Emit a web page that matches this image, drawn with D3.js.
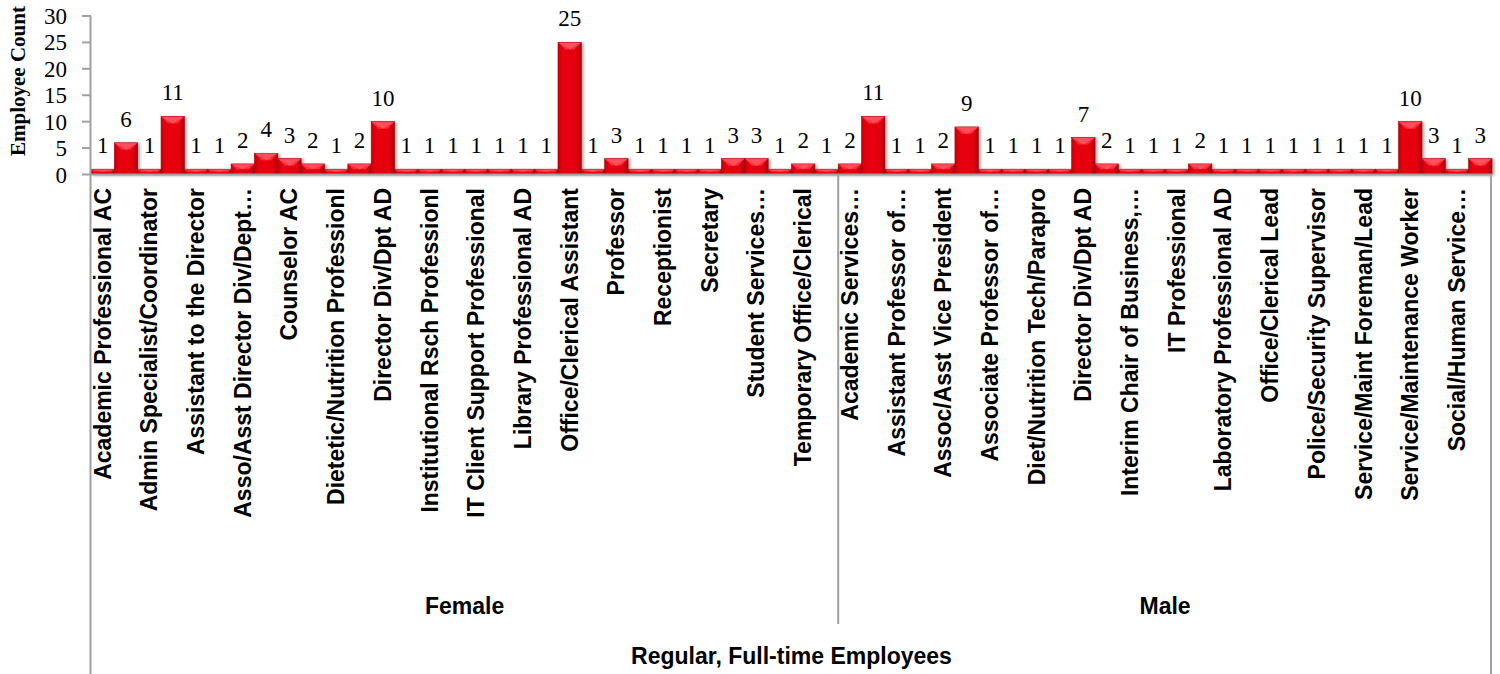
<!DOCTYPE html>
<html>
<head>
  <script src="https://d3js.org/d3.v7.min.js"></script>
  <style>
    body { margin: 0; background: #fff; }
    .cat { font-family: "Liberation Sans", Arial, sans-serif; font-weight: bold; font-size: 23px; }
    .val { font-family: "Liberation Serif", "Times New Roman", serif; font-size: 23px; }
  </style>
</head>
<body>
<div id="chart"></div>
<script>
const width = 1500;
const height = 674;
const margin = { top: 16, left: 91, right: 8, axisY: 174.5 };

// counts per job title, left to right
const femaleCounts = [1, 6, 1, 11, 1, 1, 2, 4, 3, 2, 1, 2, 10, 1, 1, 1, 1, 1, 1, 1, 25, 1, 3, 1, 1, 1, 1, 3, 3, 1, 2, 1];
const maleCounts = [2, 11, 1, 1, 2, 9, 1, 1, 1, 1, 7, 2, 1, 1, 1, 2, 1, 1, 1, 1, 1, 1, 1, 1, 10, 3, 1, 3];

// only every second title is printed on the axis
const femaleLabels = [
  "Academic Professional AC", "Admin Specialist/Coordinator", "Assistant to the Director",
  "Asso/Asst Director Div/Dept…", "Counselor AC", "Dietetic/Nutrition Professionl",
  "Director Div/Dpt AD", "Institutional Rsch Professionl", "IT Client Support Professional",
  "Library Professional AD", "Office/Clerical Assistant", "Professor", "Receptionist",
  "Secretary", "Student Services…", "Temporary Office/Clerical"
];
const maleLabels = [
  "Academic Services…", "Assistant Professor of…", "Assoc/Asst Vice President",
  "Associate Professor of…", "Diet/Nutrition Tech/Parapro", "Director Div/Dpt AD",
  "Interim Chair of Business,…", "IT Professional", "Laboratory Professional AD",
  "Office/Clerical Lead", "Police/Security Supervisor", "Service/Maint Foreman/Lead",
  "Service/Maintenance Worker", "Social/Human Service…"
];
const groups = ["Female", "Male"];
const topGroup = "Regular, Full-time Employees";
const yTicks = [0, 5, 10, 15, 20, 25, 30];

const bars = [];
femaleCounts.forEach((v, i) => bars.push({ group: "Female", value: v, label: i % 2 == 0 ? femaleLabels[i / 2] : "" }));
maleCounts.forEach((v, i) => bars.push({ group: "Male", value: v, label: i % 2 == 0 ? maleLabels[i / 2] : "" }));

const svg = d3.select("#chart").append("svg")
  .attr("width", width)
  .attr("height", height);

const defs = svg.append("defs");
const grad = defs.append("linearGradient").attr("id", "barGrad").attr("x1", 0).attr("x2", 1).attr("y1", 0).attr("y2", 0);
grad.append("stop").attr("offset", "0%").attr("stop-color", "#c4000c");
grad.append("stop").attr("offset", "18%").attr("stop-color", "#e8000f");
grad.append("stop").attr("offset", "80%").attr("stop-color", "#e4000e");
grad.append("stop").attr("offset", "100%").attr("stop-color", "#a8000a");
const shadow = defs.append("filter").attr("id", "shadow").attr("x", "-20%").attr("y", "-20%").attr("width", "150%").attr("height", "150%");
shadow.append("feDropShadow").attr("dx", 2).attr("dy", 1).attr("stdDeviation", 1.5).attr("flood-color", "#000").attr("flood-opacity", 0.35);

const x = d3.scaleBand()
  .domain(d3.range(bars.length))
  .range([margin.left, width - margin.right])
  .padding(0);

const y = d3.scaleLinear()
  .domain([0, 30])
  .range([margin.axisY, margin.top]);

// bars
const g = svg.append("g").attr("filter", "url(#shadow)");
const bw = x.bandwidth();
g.selectAll("rect.bar")
  .data(bars)
  .join("rect")
  .attr("class", "bar")
  .attr("x", (d, i) => x(i))
  .attr("y", d => y(d.value))
  .attr("width", bw)
  .attr("height", d => y(0) - y(d.value))
  .attr("fill", "url(#barGrad)")
  .attr("stroke", "#9a0008")
  .attr("stroke-width", 0.6);

// bevel on top of each bar
g.selectAll("path.bevel")
  .data(bars)
  .join("path")
  .attr("class", "bevel")
  .attr("d", (d, i) => {
    const x0 = x(i), x1 = x(i) + bw, yt = y(d.value);
    const h = y(0) - yt;
    const dd = Math.min(7, h / 2);
    return `M${x0},${yt}L${x1},${yt}L${x1 - dd},${yt + dd}L${x0 + dd},${yt + dd}Z`;
  })
  .attr("fill", "#ff2a3a");
g.selectAll("path.tri")
  .data(bars)
  .join("path")
  .attr("class", "tri")
  .attr("d", (d, i) => {
    const x0 = x(i), x1 = x(i) + bw, yt = y(d.value);
    const h = y(0) - yt;
    const dd = Math.min(7, h / 2);
    return `M${x0 + 1},${yt + 0.5}L${x1 - 1},${yt + 0.5}L${(x0 + x1) / 2},${yt + dd}Z`;
  })
  .attr("fill", "#ff5a66")
  .attr("opacity", 0.8);

// value labels
svg.append("g").selectAll("text")
  .data(bars)
  .join("text")
  .attr("class", "val")
  .attr("x", (d, i) => x(i) + bw / 2)
  .attr("y", d => y(d.value) - 16)
  .attr("text-anchor", "middle")
  .text(d => d.value);

// y axis
const yAxis = svg.append("g");
yAxis.append("line")
  .attr("x1", margin.left - 0.5).attr("x2", margin.left - 0.5)
  .attr("y1", y(30)).attr("y2", height)
  .attr("stroke", "#a0a0a0").attr("stroke-width", 2);
yAxis.selectAll("line.tick")
  .data(yTicks)
  .join("line")
  .attr("class", "tick")
  .attr("x1", margin.left - 9).attr("x2", margin.left)
  .attr("y1", d => y(d)).attr("y2", d => y(d))
  .attr("stroke", "#a0a0a0").attr("stroke-width", 2);
yAxis.selectAll("text")
  .data(yTicks)
  .join("text")
  .attr("class", "val")
  .attr("x", 67)
  .attr("y", d => y(d) + 8)
  .attr("text-anchor", "end")
  .text(d => d);

svg.append("text")
  .attr("transform", "translate(25, 81) rotate(-90)")
  .attr("text-anchor", "middle")
  .style("font-family", '"Liberation Serif", "Times New Roman", serif')
  .style("font-weight", "bold")
  .style("font-size", "21px")
  .text("Employee Count");

// x axis line and group frame
const frame = svg.append("g").attr("stroke", "#a0a0a0").attr("stroke-width", 2);
frame.append("line")
  .attr("x1", margin.left).attr("x2", width - margin.right)
  .attr("y1", y(0)).attr("y2", y(0));
frame.append("line")
  .attr("x1", x(femaleCounts.length)).attr("x2", x(femaleCounts.length))
  .attr("y1", y(0)).attr("y2", 624);
frame.append("line")
  .attr("x1", width - margin.right - 1).attr("x2", width - margin.right - 1)
  .attr("y1", y(0)).attr("y2", height);

// category labels
svg.append("g").selectAll("text")
  .data(bars)
  .join("text")
  .attr("class", "cat")
  .attr("transform", (d, i) => `translate(${x(i) + bw / 2 + 8}, 188) rotate(-90)`)
  .attr("text-anchor", "end")
  .text(d => d.label);

// group labels
const groupCenters = [
  (x(0) + x(femaleCounts.length)) / 2,
  (x(femaleCounts.length) + width - margin.right) / 2
];
svg.append("g").selectAll("text")
  .data(groups)
  .join("text")
  .attr("class", "cat")
  .attr("x", (d, i) => groupCenters[i])
  .attr("y", 614)
  .attr("text-anchor", "middle")
  .text(d => d);

svg.append("text")
  .attr("class", "cat")
  .attr("x", (margin.left + width - margin.right) / 2)
  .attr("y", 664)
  .attr("text-anchor", "middle")
  .text(topGroup);
</script>
</body>
</html>
